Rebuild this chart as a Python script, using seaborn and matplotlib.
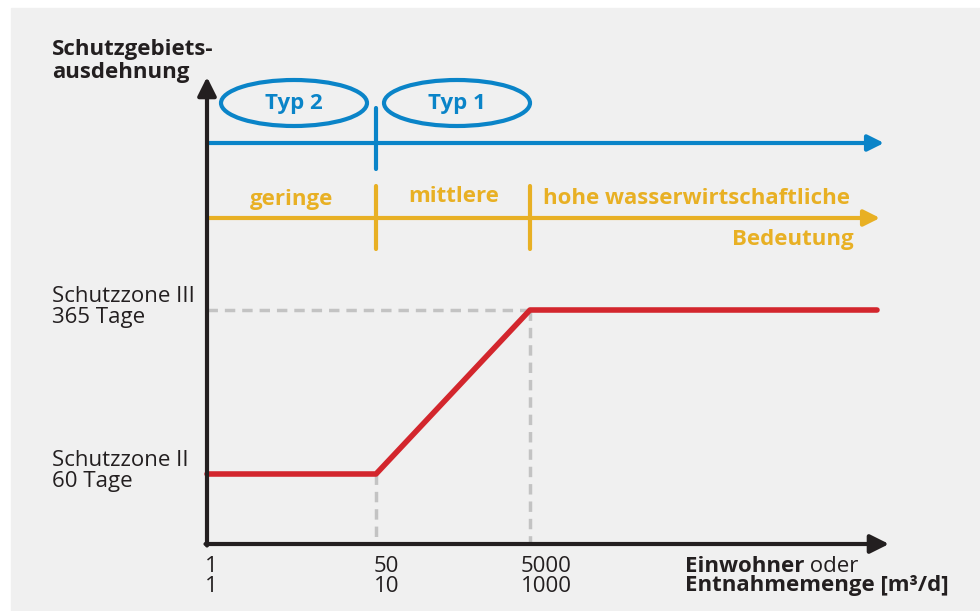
import numpy as np
import pandas as pd
import seaborn as sns
import matplotlib.pyplot as plt
from matplotlib.patches import Rectangle, Ellipse

# data
einwohner = ["1", "50", "5000"]
entnahme = ["1", "10", "1000"]
schwellen = [1, 50, 5000]
zonen = ["Schutzzone II", "Schutzzone III"]
tage = [60, 365]
typen = ["Typ 2", "Typ 1"]
bedeutung = ["geringe", "mittlere", "hohe wasserwirtschaftliche"]

# red line: protection area extent vs. size of the supply
kurve_x = [1, 50, 5000, "ende"]
kurve_tage = [60, 60, 365, 365]

# schematic layout (pixel positions of the drawing)
x_pos = {1: 207, 50: 376, 5000: 530, "ende": 877}
y_pos = {60: 474, 365: 310}
y_axis0 = 544
blue_y = 143
yellow_y = 218
FS = 16

BLUE = "#0a84c8"
YELLOW = "#e8b024"
RED = "#d3262d"
GREY = "#c3c3c3"
BLACK = "#231f20"

sns.set_style("white")
plt.rcParams["font.family"] = ["Open Sans", "DejaVu Sans"]

fig = plt.figure(figsize=(9.8, 6.11), dpi=100)
ax = fig.add_axes([0, 0, 1, 1])
ax.add_patch(Rectangle((11, 8), 980, 620, color="#f0f0f0", zorder=0))

# grey guide lines
dash = dict(color=GREY, lw=2.5, ls=(0, (3, 2)), zorder=1)
ax.plot([x_pos[1], x_pos[5000]], [y_pos[365]] * 2, **dash)
ax.plot([x_pos[5000]] * 2, [y_pos[365], y_axis0], **dash)
ax.plot([x_pos[50]] * 2, [y_pos[60], y_axis0], **dash)

df = pd.DataFrame({"x": [x_pos[v] for v in kurve_x], "y": [y_pos[v] for v in kurve_tage]})
sns.lineplot(data=df, x="x", y="y", color=RED, lw=4, sort=False, ax=ax, zorder=3)
ax.set_xlim(0, 980)
ax.set_ylim(611, 0)
ax.axis("off")

# axes arrows
arr = dict(arrowstyle="-|>", color=BLACK, lw=3, mutation_scale=28, shrinkA=0, shrinkB=0)
ax.annotate("", xy=(x_pos[1], 77), xytext=(x_pos[1], y_axis0 + 1.5), arrowprops=arr, zorder=4)
ax.annotate("", xy=(889, y_axis0), xytext=(x_pos[1] - 1.5, y_axis0), arrowprops=arr, zorder=4)

# blue type axis
arrb = dict(arrowstyle="-|>", color=BLUE, lw=3, mutation_scale=24, shrinkA=0, shrinkB=0)
ax.annotate("", xy=(884, blue_y), xytext=(x_pos[1], blue_y), arrowprops=arrb)
ax.plot([x_pos[50]] * 2, [108, 169], color=BLUE, lw=3)
for cx, t in zip([294, 457], typen):
    ax.add_patch(Ellipse((cx, 103), 146, 46, fill=False, ec=BLUE, lw=3))
    ax.text(cx, 104, t, color=BLUE, fontsize=FS, fontweight="bold", ha="center", va="center")

# yellow importance axis
arry = dict(arrowstyle="-|>", color=YELLOW, lw=3, mutation_scale=24, shrinkA=0, shrinkB=0)
ax.annotate("", xy=(880, yellow_y), xytext=(x_pos[1], yellow_y), arrowprops=arry)
for s in schwellen[1:]:
    ax.plot([x_pos[s]] * 2, [186, 249], color=YELLOW, lw=3)
ax.text(292, 199, bedeutung[0], color=YELLOW, fontsize=FS, fontweight="bold", ha="center", va="center")
ax.text(454, 197, bedeutung[1], color=YELLOW, fontsize=FS, fontweight="bold", ha="center", va="center")
ax.text(543, 199, bedeutung[2], color=YELLOW, fontsize=FS, fontweight="bold", ha="left", va="center")
ax.text(854, 240, "Bedeutung", color=YELLOW, fontsize=FS, fontweight="bold", ha="right", va="center")

# y axis title and zone labels
ax.text(52, 61, "Schutzgebiets-\nausdehnung", color=BLACK, fontsize=FS, fontweight="bold",
        ha="left", va="center", linespacing=1.08)
for z, d in zip(zonen, tage):
    ax.text(52, y_pos[d] - 3, f"{z}\n{d} Tage", color=BLACK, fontsize=FS,
            ha="left", va="center", linespacing=1.02)

# x tick labels
for s, a, b in zip(schwellen, einwohner, entnahme):
    x0 = x_pos[s] - (9 if s == 5000 else 2)
    ax.text(x0, 566, a, color=BLACK, fontsize=FS, ha="left", va="center")
    ax.text(x0, 586, b, color=BLACK, fontsize=FS, ha="left", va="center")
t1 = ax.text(685, 566, "Einwohner", color=BLACK, fontsize=FS, fontweight="bold", ha="left", va="center")
ax.annotate(" oder", xycoords=t1, xy=(1, 0.5), va="center", ha="left", color=BLACK, fontsize=FS)
ax.text(685, 586, "Entnahmemenge [m³/d]", color=BLACK, fontsize=FS, fontweight="bold", ha="left", va="center")

fig.savefig("out.png", dpi=100, facecolor="white")
